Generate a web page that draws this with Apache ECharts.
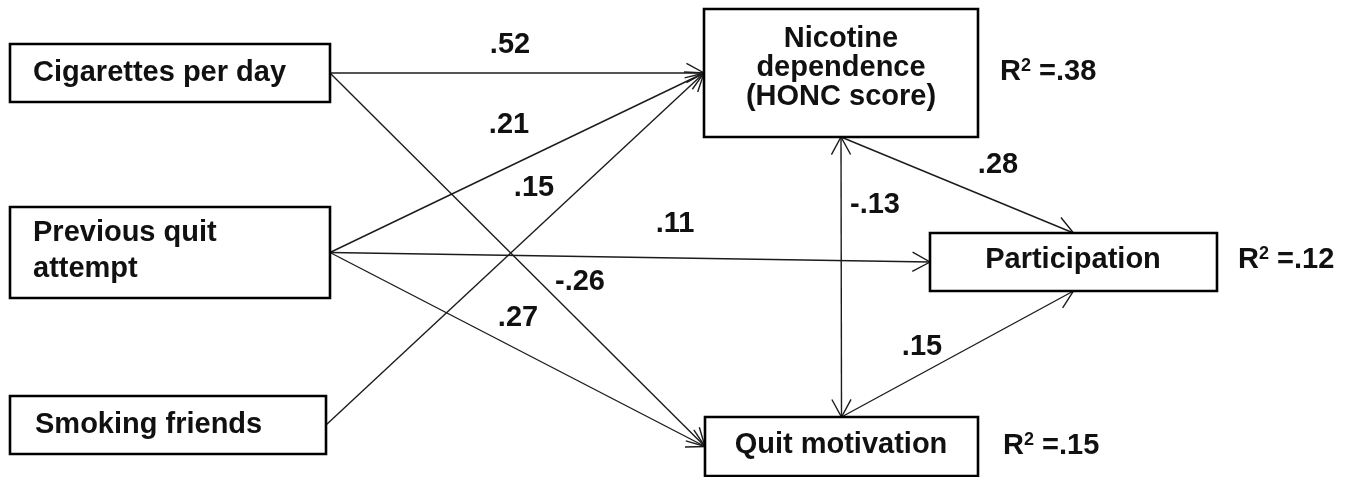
<!DOCTYPE html>
<html>
<head>
<meta charset="utf-8">
<script src="https://cdn.jsdelivr.net/npm/echarts@6/dist/echarts.min.js"></script>
<style>
  html, body { margin: 0; padding: 0; background: #fff; }
  #main { width: 1369px; height: 477px; }
</style>
</head>
<body>
<div id="main"></div>
<script>
// variables of the path model
const nodeNames = ['Cigarettes per day', 'Previous quit\nattempt', 'Smoking friends',
  'Nicotine\ndependence\n(HONC score)', 'Participation', 'Quit motivation'];
const nodeR2 = ['', '', '', '.38', '.12', '.15'];

// paths: from -> to, standardized coefficient
const pathFrom = [0, 0, 1, 1, 1, 2, 3, 3, 5];
const pathTo = [3, 5, 3, 4, 5, 3, 5, 4, 4];
const pathCoef = ['.52', '-.26', '.21', '.11', '.27', '.15', '-.13', '.28', '.15'];
const pathTwoWay = [false, false, false, false, false, false, true, false, false];

// layout (page pixels, y down)
const boxes = [[10, 44, 330, 102], [10, 207, 330, 298], [10, 396, 326, 454],
  [704, 9, 978, 137], [930, 233, 1217, 291], [705, 417, 978, 476]];
const textAlign = ['left', 'left', 'left', 'center', 'center', 'center'];
const textPos = [[33, 73], [33, 251], [35, 425], [841, 68], [1073, 260], [841, 445]];
const textLineHeight = [29, 36, 29, 29, 29, 29];
const r2Pos = [null, null, null, [1000, 72], [1238, 260], [1003, 446]];
const fromSide = ['R', 'R', 'R', 'R', 'R', 'R', 'B', 'B', 'T'];
const toSide = ['L', 'L', 'L', 'L', 'L', 'L', 'T', 'T', 'B'];
const coefPos = [[510, 45], [580, 282], [509, 125], [675, 224], [518, 318],
  [534, 188], [875, 205], [998, 165], [922, 347]];

const FONT = 'bold 29px "Liberation Sans", Arial, sans-serif';

function anchor(i, side) {
  const b = boxes[i];
  const mx = (b[0] + b[2]) / 2, my = (b[1] + b[3]) / 2;
  if (side === 'R') return [b[2], my];
  if (side === 'L') return [b[0], my];
  if (side === 'T') return [mx, b[1]];
  return [mx, b[3]];
}

function head(tip, from) {
  const ang = Math.atan2(tip[1] - from[1], tip[0] - from[0]);
  const L = 20, a = 0.5;
  return [
    [tip[0] - L * Math.cos(ang - a), tip[1] - L * Math.sin(ang - a)],
    tip,
    [tip[0] - L * Math.cos(ang + a), tip[1] - L * Math.sin(ang + a)]
  ];
}

const pathData = pathFrom.map((f, k) => {
  const a = anchor(f, fromSide[k]);
  const b = anchor(pathTo[k], toSide[k]);
  return [a[0], a[1], b[0], b[1], coefPos[k][0], coefPos[k][1]];
});
const boxData = boxes.map(b => b.slice());

const option = {
  animation: false,
  backgroundColor: '#fff',
  grid: { left: 0, right: 0, top: 0, bottom: 0 },
  xAxis: { type: 'value', min: 0, max: 1369, show: false },
  yAxis: { type: 'value', min: 0, max: 477, inverse: true, show: false },
  series: [
    {
      type: 'custom',
      data: pathData,
      z: 2,
      renderItem: function (params, api) {
        const k = params.dataIndex;
        const p1 = api.coord([api.value(0), api.value(1)]);
        const p2 = api.coord([api.value(2), api.value(3)]);
        const lp = api.coord([api.value(4), api.value(5)]);
        const stroke = { stroke: '#1c1c1c', lineWidth: 1.4, fill: null };
        const children = [
          { type: 'line', shape: { x1: p1[0], y1: p1[1], x2: p2[0], y2: p2[1] }, style: stroke },
          { type: 'polyline', shape: { points: head(p2, p1) }, style: stroke },
          { type: 'text', style: { text: pathCoef[k], x: lp[0], y: lp[1], font: FONT,
            fill: '#111', align: 'center', verticalAlign: 'middle' } }
        ];
        if (pathTwoWay[k]) {
          children.push({ type: 'polyline', shape: { points: head(p1, p2) }, style: stroke });
        }
        return { type: 'group', children: children };
      }
    },
    {
      type: 'custom',
      data: boxData,
      z: 3,
      renderItem: function (params, api) {
        const i = params.dataIndex;
        const a = api.coord([api.value(0), api.value(1)]);
        const b = api.coord([api.value(2), api.value(3)]);
        const t = api.coord(textPos[i]);
        const children = [
          { type: 'rect', shape: { x: a[0], y: a[1], width: b[0] - a[0], height: b[1] - a[1] },
            style: { fill: '#fff', stroke: '#000', lineWidth: 2.6 } },
          { type: 'text', style: { text: nodeNames[i], x: t[0], y: t[1], font: FONT,
            fill: '#111', align: textAlign[i], verticalAlign: 'middle', lineHeight: textLineHeight[i] } }
        ];
        if (nodeR2[i]) {
          const r = api.coord(r2Pos[i]);
          children.push({ type: 'text', style: {
            text: '{m|R}{s|2}{m| =' + nodeR2[i] + '}', x: r[0], y: r[1],
            align: 'left', verticalAlign: 'middle', fill: '#111',
            rich: {
              m: { font: FONT, lineHeight: 29, fill: '#111' },
              s: { font: 'bold 18px "Liberation Sans", Arial, sans-serif', lineHeight: 18,
                verticalAlign: 'top', fill: '#111' }
            }
          } });
        }
        return { type: 'group', children: children };
      }
    }
  ]
};

const chart = echarts.init(document.getElementById('main'));
chart.setOption(option);
</script>
</body>
</html>
